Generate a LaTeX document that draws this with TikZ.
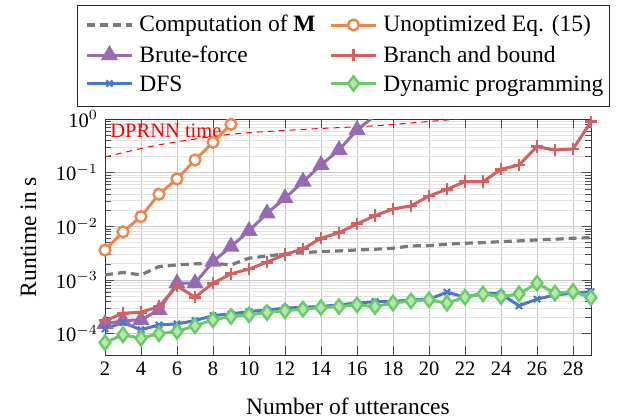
\documentclass[tikz,border=0pt]{standalone}
\usepackage{fontspec}
\setmainfont{Liberation Serif}
\usepackage{pgfplots}
\pgfplotsset{compat=1.18}

\definecolor{cgray}{HTML}{797979}
\definecolor{corange}{HTML}{EE854A}
\definecolor{cpurple}{HTML}{956CB4}
\definecolor{cred}{HTML}{D65F5F}
\definecolor{cblue}{HTML}{4878D0}
\definecolor{cgreen}{HTML}{6ACC64}

\newcommand{\ticksz}{\fontsize{10.25}{12}\selectfont}
\newcommand{\labsz}{\fontsize{11.75}{14}\selectfont}

\tikzset{
  sgray/.style={cgray, line width=1.6pt, dash pattern=on 4pt off 2.5pt},
  sorange/.style={corange, line width=1.5pt, mark=*, mark size=2.7pt,
    mark options={solid, fill=white, line width=1.2pt}},
  spurple/.style={cpurple, line width=1.5pt, mark=triangle*, mark size=3.5pt,
    mark options={solid, fill=cpurple}},
  sred/.style={cred, line width=1.5pt, mark=+, mark size=3.1pt,
    mark options={solid, line width=1.4pt}},
  sblue/.style={cblue, line width=1.5pt, mark=x, mark size=2.2pt,
    mark options={solid, line width=1.1pt}},
  sgreen/.style={cgreen, line width=1.5pt, mark=diamond*, mark size=3.6pt,
    mark options={solid, fill=cgreen!50!white, line width=1.2pt}},
  legtext/.style={font=\labsz, inner sep=0pt, anchor=base west},
  legbox/.style={draw=black!85, line width=0.5pt, fill=white},
}

\begin{document}
\begin{tikzpicture}[x=0.5pt, y=0.5pt]
\useasboundingbox (0,0) rectangle (627,419);

\begin{axis}[
  at={(52.5pt,32pt)}, anchor=south west,
  scale only axis, width=243pt, height=118pt,
  xmin=2, xmax=29, ymin=4e-5, ymax=1, ymode=log,
  xtick={2,4,...,28},
  xticklabel={\pgfmathprintnumber[assume math mode=true]{\tick}},
  ytick={1e-4,1e-3,1e-2,1e-1,1},
  yticklabels={10$^{-4}$,10$^{-3}$,10$^{-2}$,10$^{-1}$,10$^{0}$},
  grid=both,
  major grid style={black!22, line width=0.4pt},
  minor grid style={black!11, line width=0.4pt},
  minor x tick num=0,
  axis line style={black!80},
  tick style={black!70},
  tick label style={font=\ticksz},
  label style={font=\labsz},
  xlabel={Number of utterances},
  ylabel={Runtime in s},
  xlabel shift=4pt,
  ylabel shift=3pt,
]
% DPRNN time
\addplot[red, line width=0.5pt, dash pattern=on 3pt off 2.5pt, smooth] coordinates {
 (2,0.196) (5,0.33) (9,0.52) (13,0.64) (16.5,0.73) (18,0.79) (20,0.9) (22,1.02) (24,1.12)};
\node[red, anchor=west, inner sep=0pt, font=\ticksz] (dprnn) at (axis cs:2.28,0.598) {DPRNN time};

% Computation of M
\addplot[sgray] coordinates {
 (2,1.245e-3) (3,1.38e-3) (4,1.245e-3) (5,1.78e-3) (6,1.91e-3) (7,2.0e-3) (8,2.05e-3)
 (9,1.91e-3) (10,2.55e-3) (11,2.8e-3) (12,3.06e-3) (13,3.24e-3) (14,3.38e-3) (15,3.48e-3)
 (16,3.63e-3) (17,3.74e-3) (18,3.91e-3) (19,4.31e-3) (20,4.37e-3) (21,4.64e-3) (22,4.84e-3)
 (23,4.97e-3) (24,5.19e-3) (25,5.35e-3) (26,5.58e-3) (27,5.75e-3) (28,6.0e-3) (29,6.16e-3)};

% Unoptimized
\addplot[sorange] coordinates {
 (2,3.6e-3) (3,7.9e-3) (4,0.0152) (5,0.0397) (6,0.0763) (7,0.172) (8,0.368) (9,0.796)};

% Brute force
\addplot[cpurple, line width=1.5pt, forget plot] coordinates {(16,0.624) (17,1.15)};
\addplot[spurple] coordinates {
 (2,1.52e-4) (3,1.75e-4) (4,1.81e-4) (5,2.77e-4) (6,8.7e-4) (7,8.7e-4) (8,2.2e-3)
 (9,4.19e-3) (10,8.2e-3) (11,0.0175) (12,0.0334) (13,0.068) (14,0.139) (15,0.265) (16,0.624)};

% Branch and bound
\addplot[sred] coordinates {
 (2,1.73e-4) (3,2.4e-4) (4,2.51e-4) (5,3.2e-4) (6,7.76e-4) (7,4.79e-4) (8,8.7e-4)
 (9,1.3e-3) (10,1.6e-3) (11,2.15e-3) (12,3.0e-3) (13,3.8e-3) (14,6.0e-3) (15,7.6e-3)
 (16,0.0111) (17,0.0158) (18,0.0211) (19,0.024) (20,0.0368) (21,0.049) (22,0.068)
 (23,0.068) (24,0.1156) (25,0.139) (26,0.305) (27,0.265) (28,0.276) (29,0.89)};

% DFS
\addplot[sblue] coordinates {
 (2,1.23e-4) (3,1.61e-4) (4,1.18e-4) (5,1.46e-4) (6,1.52e-4) (7,1.75e-4) (8,2.17e-4)
 (9,2.34e-4) (10,2.58e-4) (11,2.77e-4) (12,2.98e-4) (13,3.11e-4) (14,3.2e-4) (15,3.44e-4)
 (16,3.71e-4) (17,3.96e-4) (18,3.96e-4) (19,4.26e-4) (20,4.39e-4) (21,5.93e-4) (22,4.79e-4)
 (23,5.68e-4) (24,5.5e-4) (25,3.3e-4) (26,4.39e-4) (27,5.28e-4) (28,5.68e-4) (29,6.08e-4)};

% Dynamic programming
\addplot[sgreen] coordinates {
 (2,6.8e-5) (3,9.5e-5) (4,8.2e-5) (5,1.0e-4) (6,1.1e-4) (7,1.4e-4) (8,1.81e-4)
 (9,2.09e-4) (10,2.24e-4) (11,2.47e-4) (12,2.66e-4) (13,2.86e-4) (14,3.06e-4) (15,3.2e-4)
 (16,3.44e-4) (17,3.2e-4) (18,3.71e-4) (19,4.07e-4) (20,4.26e-4) (21,3.71e-4) (22,4.79e-4)
 (23,5.5e-4) (24,4.9e-4) (25,5.5e-4) (26,8.7e-4) (27,5.68e-4) (28,6.08e-4) (29,4.7e-4)};
\end{axis}

% Legend
\draw[legbox] (77,313) rectangle (609,414);
% row 1
\draw[sgray] (87,394) -- (132,394);
\node[legtext] (lgM) at (139,387) {Computation of \textbf{M}};
\draw[sorange] plot[mark indices={2}] coordinates {(331,394) (353.5,394) (376,394)};
\node[legtext] (lgU) at (383,387) {Unoptimized Eq. (15)};
% row 2
\draw[spurple] plot[mark indices={2}] coordinates {(87,364) (109.5,364) (132,364)};
\node[legtext] (lgB) at (139,357) {Brute-force};
\draw[sred] plot[mark indices={2}] coordinates {(331,364) (353.5,364) (376,364)};
\node[legtext] (lgBB) at (383,357) {Branch and bound};
% row 3
\draw[sblue] plot[mark indices={2}] coordinates {(87,335.5) (109.5,335.5) (132,335.5)};
\node[legtext] (lgD) at (139,328) {DFS};
\draw[sgreen] plot[mark indices={2}] coordinates {(331,335.5) (353.5,335.5) (376,335.5)};
\node[legtext] (lgDP) at (383,328) {Dynamic programming};
\end{tikzpicture}
\end{document}
